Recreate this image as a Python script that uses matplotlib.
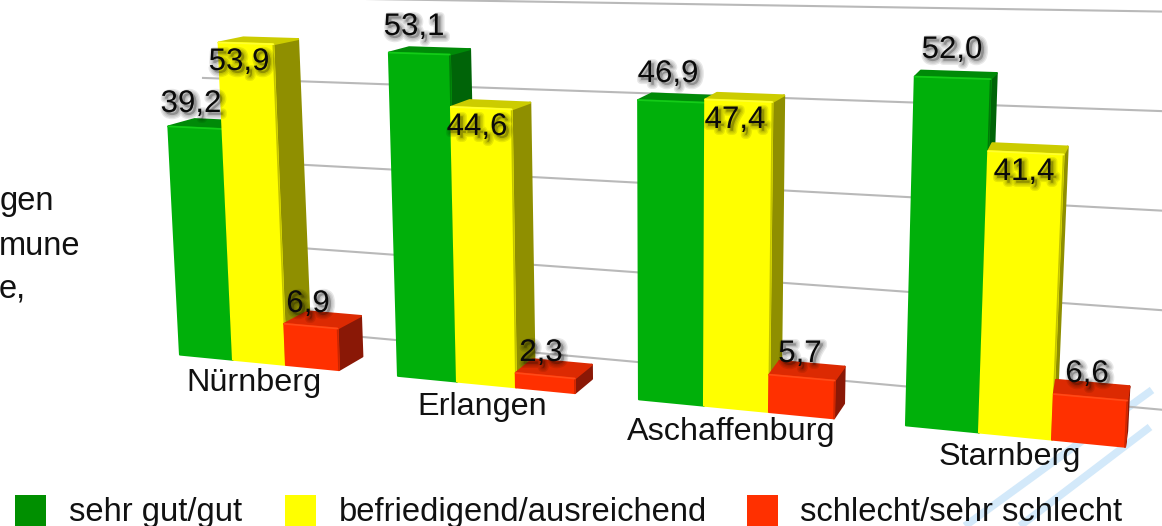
import numpy as np
import matplotlib
matplotlib.use('Agg')
import matplotlib.pyplot as plt
import matplotlib.patheffects as pe

plt.rcParams['font.family'] = ['Liberation Sans', 'DejaVu Sans']

cities = ['Nürnberg', 'Erlangen', 'Aschaffenburg', 'Starnberg']
series = ['sehr gut/gut', 'befriedigend/ausreichend', 'schlecht/sehr schlecht']
gut = [39.2, 53.1, 46.9, 52.0]
mittel = [53.9, 44.6, 47.4, 41.4]
schlecht = [6.9, 2.3, 5.7, 6.6]
values = [gut, mittel, schlecht]

# layout of the tilted picture, all in pixels
group_left = [180, 398, 639, 906]
bar_w = [53, 59, 65, 73]
city_pos = [(254, 391), (482, 415), (731, 440), (1010, 465)]
label_pos = [[(191, 112), (414, 35), (668, 82), (952, 58)],
             [(239, 70), (477, 135), (735, 128), (1024, 180)],
             [(308, 312), (541, 361), (800, 362), (1087, 382)]]
grid_ticks = [0, 1, 2, 3, 4]
legend_x = [15, 285, 747]
legend_text_x = [69, 339, 800]

front = ['#00b00a', '#ffff00', '#ff3000']
rim = ['#14cc18', '#ffff30', '#ff4a18']
edge = ['#007a08', '#c4c400', '#cc2600']
side = ['#006408', '#8f8f00', '#8a1806']
top = ['#008a08', '#cccc00', '#dc2a02']
legend_col = ['#008f00', '#ffff00', '#ff3000']


def base_y(x):
    return 337 + 0.0975 * x


def scale(x):
    return 5.6 + 0.00122 * x


def lean(x):
    return (x - 665) * 0.000105


def depth_x(x):
    return 32.5 - 0.027 * x


def depth_y(y):
    return -(4 + 0.026 * y)


def wall_y(x, t):
    return 304 + 0.091 * x - t * (77.7 + 0.0188 * x)


def top_pt(x, v):
    h = v * scale(x)
    return x + lean(x) * h, base_y(x) - h


fig = plt.figure(figsize=(11.62, 5.26), dpi=100)
ax = fig.add_axes([0, 0, 1, 1])
ax.set_xlim(0, 1162)
ax.set_ylim(526, 0)
ax.axis('off')

# stripes of the slide behind
ax.plot([1152, 965], [390, 526], color='#d3e9fa', lw=5.5, solid_capstyle='butt', zorder=1)
ax.plot([1150, 1020], [427, 526], color='#d3e9fa', lw=5.5, solid_capstyle='butt', zorder=1)

# back wall lines
xs = np.array([203, 1162])
for t in grid_ticks:
    ax.plot(xs, wall_y(xs, t), color='#b9b9b9', lw=1.5, zorder=1)

z = 2
for g in range(len(cities)):
    for s in range(len(series)):
        x0 = group_left[g] + s * bar_w[g]
        x1 = x0 + bar_w[g]
        v = values[s][g]
        tl = top_pt(x0, v)
        tr = top_pt(x1, v)
        bl = (x0, base_y(x0))
        br = (x1, base_y(x1))
        dx = depth_x(x1)
        tr_b = (tr[0] + dx, tr[1] + depth_y(tr[1]))
        tl_b = (tl[0] + dx, tl[1] + depth_y(tl[1]))
        br_b = (br[0] + dx, br[1] + depth_y(br[1]))
        kw = dict(joinstyle='round', lw=1.5, zorder=z)
        pts = [tr, tr_b, br_b, br]
        ax.fill(*zip(*pts), fc=side[s], ec=side[s], **kw)
        pts = [tl, tl_b, tr_b, tr]
        ax.fill(*zip(*pts), fc=top[s], ec=top[s], **kw)
        pts = [tl, tr, br, bl]
        ax.fill(*zip(*pts), fc=front[s], ec=front[s], **kw)
        # soft rims of the front face
        ax.plot(*zip(tr, br), color=edge[s], lw=1.2, solid_capstyle='round', zorder=z)
        ax.plot(*zip(tl, tr), color=rim[s], lw=1.2, solid_capstyle='round', zorder=z)
        z += 1

shadow = [pe.Stroke(linewidth=w, foreground='black', alpha=0.09, offset=(2, -2))
          for w in (6, 4, 2)] + [pe.Normal()]

for s in range(len(series)):
    for g in range(len(cities)):
        lx, ly = label_pos[s][g]
        txt = ('%.1f' % values[s][g]).replace('.', ',')
        ax.text(lx, ly, txt, fontsize=22.5, ha='center', va='baseline', color='#0a0a0a',
                zorder=50, path_effects=shadow)

for name, (cx, cy) in zip(cities, city_pos):
    ax.text(cx, cy, name, fontsize=23.3, ha='center', va='baseline', color='#111111', zorder=51)

# rest of the text that the crop cuts off on the left
ax.text(54, 210, 'gen', fontsize=23.5, ha='right', va='baseline', color='#111111')
ax.text(80, 255, 'mune', fontsize=23.5, ha='right', va='baseline', color='#111111')
ax.text(26, 298, 'e,', fontsize=23.5, ha='right', va='baseline', color='#111111')

for s in range(len(series)):
    ax.fill_between([legend_x[s], legend_x[s] + 31], 495, 526, color=legend_col[s], lw=0, zorder=52)
    ax.text(legend_text_x[s], 521, series[s], fontsize=23.6, ha='left', va='baseline',
            color='#111111', zorder=53)

fig.savefig('out.png', dpi=100)
